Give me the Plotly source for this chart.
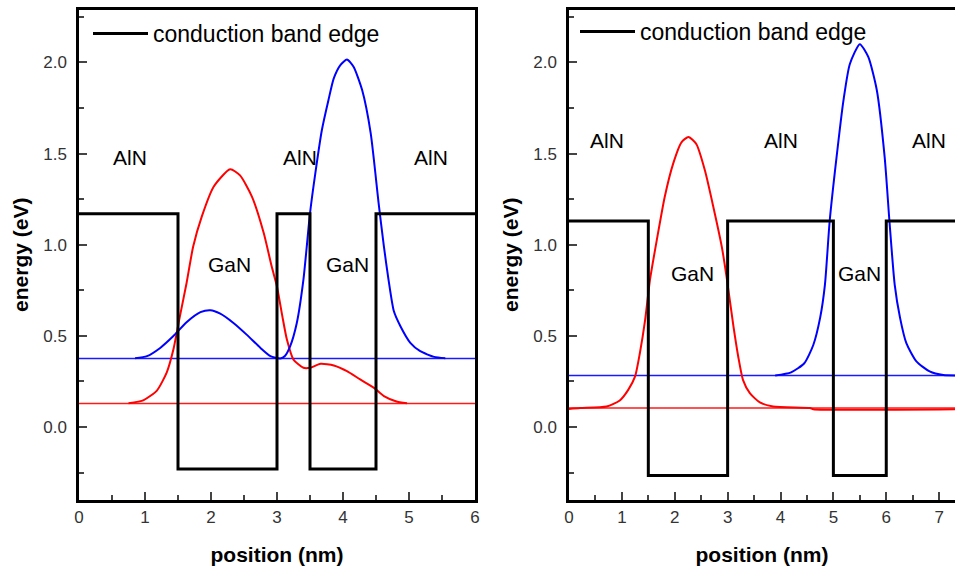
import plotly.graph_objects as go

# ---------------- data (left panel) ----------------
L_band_x = [0, 1.5, 1.5, 3.0, 3.0, 3.5, 3.5, 4.5, 4.5, 6.0]
L_band_y = [1.17, 1.17, -0.23, -0.23, 1.17, 1.17, -0.23, -0.23, 1.17, 1.17]
L_e1 = 0.129
L_e2 = 0.376
L_red_x = [0.75, 0.98, 1.18, 1.33, 1.43, 1.53, 1.63, 1.73, 1.86, 2.04, 2.29, 2.44, 2.62, 2.8, 2.92,
           3.0, 3.08, 3.15, 3.25, 3.4, 3.5, 3.66, 3.86, 4.06, 4.26, 4.47, 4.62, 4.8, 4.97]
L_red_y = [0.13, 0.148, 0.2, 0.30, 0.425, 0.61, 0.79, 0.99, 1.154, 1.318, 1.414, 1.38, 1.264, 1.063, 0.88,
           0.77, 0.61, 0.48, 0.37, 0.325, 0.325, 0.347, 0.338, 0.307, 0.261, 0.215, 0.17, 0.142, 0.13]
L_blue_x = [0.85, 1.03, 1.23, 1.43, 1.63, 1.84, 1.99, 2.14, 2.34, 2.54, 2.75, 2.9, 3.05, 3.12, 3.2, 3.3,
            3.4, 3.5, 3.58, 3.68, 3.78, 3.86, 3.96, 4.06, 4.16, 4.29, 4.42, 4.54, 4.62, 4.69, 4.77, 4.87,
            5.02, 5.17, 5.38, 5.55]
L_blue_y = [0.378, 0.389, 0.434, 0.499, 0.575, 0.63, 0.641, 0.622, 0.571, 0.507, 0.434, 0.389, 0.376, 0.39,
            0.444, 0.571, 0.807, 1.172, 1.39, 1.629, 1.794, 1.912, 1.985, 2.016, 1.976, 1.848, 1.611, 1.227,
            0.99, 0.807, 0.636, 0.553, 0.462, 0.416, 0.385, 0.378]
L_labels = ["AlN", "AlN", "AlN", "GaN", "GaN"]
L_label_x = [0.77, 3.35, 5.34, 2.28, 4.07]
L_label_y = [1.476, 1.476, 1.476, 0.889, 0.889]

# ---------------- data (right panel) ----------------
R_band_x = [0, 1.5, 1.5, 3.0, 3.0, 5.0, 5.0, 6.0, 6.0, 7.3]
R_band_y = [1.13, 1.13, -0.265, -0.265, 1.13, 1.13, -0.265, -0.265, 1.13, 1.13]
R_e1 = 0.104
R_e2 = 0.283
R_red_x = [0, 0.21, 0.71, 0.96, 1.12, 1.25, 1.34, 1.44, 1.53, 1.66, 1.81, 1.97, 2.13, 2.26, 2.41, 2.57,
           2.73, 2.89, 2.98, 3.11, 3.2, 3.29, 3.42, 3.61, 3.86, 4.56, 4.62, 7.3]
R_red_y = [0.099, 0.104, 0.113, 0.146, 0.204, 0.278, 0.405, 0.588, 0.805, 1.025, 1.262, 1.445, 1.563, 1.591,
           1.551, 1.408, 1.207, 0.988, 0.824, 0.552, 0.387, 0.259, 0.186, 0.135, 0.113, 0.104, 0.098, 0.098]
R_blue_x = [3.9, 4.2, 4.45, 4.62, 4.75, 4.84, 4.93, 5.06, 5.19, 5.31, 5.5, 5.66, 5.82, 5.97, 6.06, 6.16,
            6.26, 6.38, 6.57, 6.82, 7.08, 7.3]
R_blue_y = [0.283, 0.30, 0.35, 0.45, 0.60, 0.78, 1.13, 1.48, 1.79, 1.99, 2.10, 2.03, 1.85, 1.48, 1.13, 0.78,
            0.60, 0.46, 0.36, 0.305, 0.285, 0.283]
R_labels = ["AlN", "AlN", "AlN", "GaN", "GaN"]
R_label_x = [0.72, 4.01, 6.8, 2.34, 5.5]
R_label_y = [1.573, 1.573, 1.573, 0.844, 0.844]

X_TITLE = "position (nm)"
Y_TITLE = "energy (eV)"
LEGEND_NAME = "conduction band edge"

FONT = "Liberation Sans, Arial, sans-serif"
fig = go.Figure()


def add_panel(xa, ya, legend, xmax, band_x, band_y, e1, e2, rx, ry, bx, by, labels, lx, ly):
    # energy levels (thin)
    fig.add_trace(go.Scatter(x=[0, xmax], y=[e1, e1], mode="lines", line=dict(color="#ff1a1a", width=1.5),
                             xaxis=xa, yaxis=ya, showlegend=False, hoverinfo="skip"))
    fig.add_trace(go.Scatter(x=[0, xmax], y=[e2, e2], mode="lines", line=dict(color="#1a1aff", width=1.5),
                             xaxis=xa, yaxis=ya, showlegend=False, hoverinfo="skip"))
    # wavefunctions
    fig.add_trace(go.Scatter(x=rx, y=ry, mode="lines", line=dict(color="#ff0000", width=2, shape="spline", smoothing=0.6),
                             xaxis=xa, yaxis=ya, showlegend=False))
    fig.add_trace(go.Scatter(x=bx, y=by, mode="lines", line=dict(color="#0000ff", width=2, shape="spline", smoothing=0.6),
                             xaxis=xa, yaxis=ya, showlegend=False))
    # band edge
    fig.add_trace(go.Scatter(x=band_x, y=band_y, mode="lines", line=dict(color="black", width=3),
                             xaxis=xa, yaxis=ya, name=LEGEND_NAME, legend=legend, showlegend=True))
    for t, x, y in zip(labels, lx, ly):
        fig.add_annotation(x=x, y=y, xref=xa, yref=ya, text=t, showarrow=False,
                           font=dict(family=FONT, size=21, color="black"))


add_panel("x", "y", "legend", 6.0, L_band_x, L_band_y, L_e1, L_e2, L_red_x, L_red_y, L_blue_x, L_blue_y,
          L_labels, L_label_x, L_label_y)
add_panel("x2", "y2", "legend2", 7.3, R_band_x, R_band_y, R_e1, R_e2, R_red_x, R_red_y, R_blue_x, R_blue_y,
          R_labels, R_label_x, R_label_y)

W, H = 956, 566
ydom = [66 / H, (H - 9.5) / H]

xcommon = dict(ticks="inside", ticklen=8, tickwidth=2, dtick=1, tick0=0, showgrid=False, zeroline=False,
               linecolor="black", linewidth=2.5, showline=True, mirror=True,
               tickfont=dict(family=FONT, size=17, color="#333"),
               minor=dict(ticks="inside", ticklen=5, tickwidth=2, dtick=0.5, tick0=0, showgrid=False),
               title=dict(text=X_TITLE, font=dict(family=FONT, size=21, color="black", weight="bold"), standoff=22),
               automargin=False)
ycommon = dict(ticks="inside", ticklen=8, tickwidth=2, dtick=0.5, tick0=0, showgrid=False, zeroline=False,
               linecolor="black", linewidth=2.5, showline=True, range=[-0.4, 2.29],
               tickformat=".1f", ticklabelstandoff=6,
               tickfont=dict(family=FONT, size=17, color="#333"),
               minor=dict(ticks="inside", ticklen=5, tickwidth=2, dtick=0.25, tick0=0, showgrid=False),
               title=dict(text=Y_TITLE, font=dict(family=FONT, size=21, color="black", weight="bold"), standoff=9),
               automargin=False)

fig.update_layout(
    width=W, height=H, margin=dict(l=0, r=0, t=0, b=0),
    paper_bgcolor="white", plot_bgcolor="white",
    xaxis=dict(xcommon, domain=[79 / W, 475 / W], range=[0, 6], anchor="y"),
    yaxis=dict(ycommon, domain=ydom, anchor="x", mirror=True),
    xaxis2=dict(xcommon, domain=[569 / W, 955 / W], range=[0, 7.3], anchor="y2"),
    yaxis2=dict(ycommon, domain=ydom, anchor="x2", mirror=False),
    legend=dict(x=88 / W, y=(H - 12) / H, xanchor="left", yanchor="top", bgcolor="rgba(0,0,0,0)",
                itemwidth=55, font=dict(family=FONT, size=23, color="black")),
    legend2=dict(x=575 / W, y=(H - 10) / H, xanchor="left", yanchor="top", bgcolor="rgba(0,0,0,0)",
                 itemwidth=55, font=dict(family=FONT, size=23, color="black")),
    showlegend=True,
)

fig.write_html("out.html")
